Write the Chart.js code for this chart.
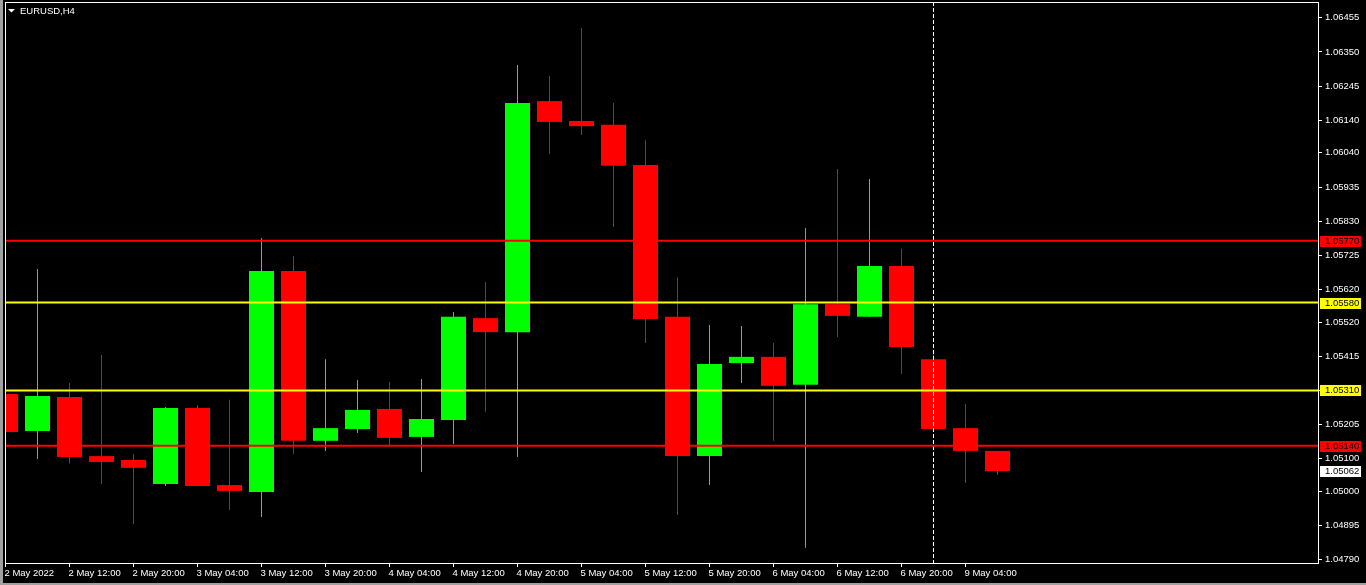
<!DOCTYPE html>
<html>
<head>
<meta charset="utf-8">
<title>EURUSD,H4</title>
<script src="https://cdn.jsdelivr.net/npm/chart.js@4.4.0/dist/chart.umd.min.js"></script>
<style>
  html, body { margin: 0; padding: 0; background: #000; overflow: hidden; }
  canvas { display: block; }
</style>
</head>
<body>
<canvas id="graficoEurusd" width="1366" height="585"></canvas>
<script>
const simbolo = 'EURUSD,H4';

// um candle a cada 4 horas
const horarios = [
  '2 May 04:00', '2 May 08:00', '2 May 12:00', '2 May 16:00', '2 May 20:00',
  '3 May 00:00', '3 May 04:00', '3 May 08:00', '3 May 12:00', '3 May 16:00', '3 May 20:00',
  '4 May 00:00', '4 May 04:00', '4 May 08:00', '4 May 12:00', '4 May 16:00', '4 May 20:00',
  '5 May 00:00', '5 May 04:00', '5 May 08:00', '5 May 12:00', '5 May 16:00', '5 May 20:00',
  '6 May 00:00', '6 May 04:00', '6 May 08:00', '6 May 12:00', '6 May 16:00', '6 May 20:00',
  '9 May 00:00', '9 May 04:00', '9 May 08:00'
];

const aberturas = [
  1.05299, 1.05185, 1.05290, 1.05108, 1.05096, 1.05022, 1.05256, 1.05019, 1.04998, 1.05677,
  1.05155, 1.05191, 1.05253, 1.05167, 1.05219, 1.05532, 1.05489, 1.06199, 1.06138, 1.06126,
  1.06003, 1.05536, 1.05108, 1.05394, 1.05413, 1.05327, 1.05575, 1.05536, 1.05692, 1.05406,
  1.05194, 1.05124
];
const maximas = [
  1.05333, 1.05683, 1.05333, 1.05419, 1.05115, 1.05259, 1.05265, 1.05281, 1.05778, 1.05723,
  1.05406, 1.05342, 1.05336, 1.05345, 1.05551, 1.05643, 1.06310, 1.06276, 1.06424, 1.06193,
  1.06079, 1.05658, 1.05511, 1.05508, 1.05456, 1.05809, 1.05990, 1.05960, 1.05745, 1.05434,
  1.05268, 1.05124
];
const minimas = [
  1.05168, 1.05099, 1.05085, 1.05022, 1.04899, 1.05016, 1.05016, 1.04942, 1.04921, 1.05115,
  1.05124, 1.05179, 1.05142, 1.05059, 1.05145, 1.05244, 1.05105, 1.06036, 1.06095, 1.05812,
  1.05456, 1.04927, 1.05019, 1.05333, 1.05155, 1.04826, 1.05474, 1.05536, 1.05360, 1.05182,
  1.05025, 1.05050
];
const fechamentos = [
  1.05182, 1.05293, 1.05105, 1.05090, 1.05072, 1.05256, 1.05016, 1.05001, 1.05677, 1.05155,
  1.05194, 1.05250, 1.05164, 1.05222, 1.05536, 1.05489, 1.06193, 1.06135, 1.06122, 1.06000,
  1.05529, 1.05108, 1.05391, 1.05413, 1.05324, 1.05575, 1.05539, 1.05692, 1.05443, 1.05191,
  1.05124, 1.05062
];

// linhas horizontais (suporte / resistencia)
const niveisPreco = [1.05770, 1.05580, 1.05310, 1.05140];
const coresNiveis = ['#ff0000', '#ffff00', '#ffff00', '#ff0000'];

// separador vertical no candle de 9 May 00:00
const indiceSeparador = 29;

// rotulos dos eixos
const posicoesEixoX = [0, 2, 4, 6, 8, 10, 12, 14, 16, 18, 20, 22, 24, 26, 28, 30];
const rotulosEixoX = [
  '2 May 2022', '2 May 12:00', '2 May 20:00', '3 May 04:00', '3 May 12:00', '3 May 20:00',
  '4 May 04:00', '4 May 12:00', '4 May 20:00', '5 May 04:00', '5 May 12:00', '5 May 20:00',
  '6 May 04:00', '6 May 12:00', '6 May 20:00', '9 May 04:00'
];
const ticksEixoY = [
  1.06455, 1.06350, 1.06245, 1.06140, 1.06040, 1.05935, 1.05830, 1.05725, 1.05620,
  1.05520, 1.05415, 1.05310, 1.05205, 1.05100, 1.05000, 1.04895, 1.04790
];

const Y_MIN = 1.047795;
const Y_MAX = 1.065036;
const X_MIN = -0.015625;
const X_MAX = 41.015625;

const VERDE = '#00ff00';
const VERMELHO = '#ff0000';
const fonte = { family: '"Liberation Sans", Arial, sans-serif', size: 9.5 };

const corCandle = aberturas.map((a, i) => fechamentos[i] >= a ? VERDE : VERMELHO);
const corpos = horarios.map((h, i) => ({ x: i, y: [aberturas[i], fechamentos[i]] }));
const pavios = horarios.map((h, i) => ({ x: i, y: [minimas[i], maximas[i]] }));

const linhasNiveis = niveisPreco.map((nivel, i) => ({
  type: 'line',
  label: 'nivel ' + nivel,
  data: [{ x: X_MIN, y: nivel }, { x: X_MAX, y: nivel }],
  borderColor: coresNiveis[i],
  borderWidth: 2,
  pointRadius: 0,
  fill: false,
  order: 0
}));

const linhaSeparador = {
  type: 'line',
  label: 'separador',
  data: [{ x: indiceSeparador, y: Y_MAX }, { x: indiceSeparador, y: Y_MIN }],
  borderColor: '#ffffff',
  borderWidth: 1,
  borderDash: [4, 2],
  pointRadius: 0,
  fill: false,
  order: 0
};

// tira o espaco extra que o chart.js reserva para os rotulos das pontas
function semPadding(s) {
  s.paddingLeft = 0;
  s.paddingRight = 0;
  s.paddingTop = 0;
  s.paddingBottom = 0;
}

// moldura, titulo e etiquetas de preco no eixo, estilo MT4
const molduraMT4 = {
  id: 'molduraMT4',
  beforeDraw(chart) {
    const ctx = chart.ctx;
    ctx.save();
    ctx.fillStyle = '#000';
    ctx.fillRect(0, 0, chart.width, chart.height);
    ctx.fillStyle = '#a0a0a0';
    ctx.fillRect(0, 0, 3, chart.height);
    ctx.fillRect(0, chart.height - 2, chart.width, 2);
    ctx.restore();
  },
  afterDraw(chart) {
    const { ctx, chartArea: a, scales } = chart;
    ctx.save();
    ctx.strokeStyle = '#ffffff';
    ctx.lineWidth = 1;
    ctx.strokeRect(a.left + 0.5, a.top + 0.5, a.right - a.left, a.bottom - a.top);

    ctx.fillStyle = '#ffffff';
    ctx.beginPath();
    ctx.moveTo(8, 9);
    ctx.lineTo(15, 9);
    ctx.lineTo(11.5, 12.5);
    ctx.closePath();
    ctx.fill();
    ctx.font = '9.5px "Liberation Sans", Arial, sans-serif';
    ctx.textBaseline = 'alphabetic';
    ctx.textAlign = 'left';
    ctx.fillText(simbolo, 20, 14);

    const etiquetas = niveisPreco.map((v, i) => ({ v, fundo: coresNiveis[i] }));
    etiquetas.push({ v: fechamentos[fechamentos.length - 1], fundo: '#ffffff' });
    ctx.textBaseline = 'middle';
    etiquetas.forEach(e => {
      const py = Math.round(scales.y.getPixelForValue(e.v));
      ctx.fillStyle = e.fundo;
      ctx.fillRect(a.right + 2, py - 5, 41, 11);
      ctx.fillStyle = '#000000';
      ctx.fillText(e.v.toFixed(5), a.right + 7, py + 0.5);
    });
    ctx.restore();
  }
};

const graficoEurusd = new Chart(document.getElementById('graficoEurusd'), {
  type: 'bar',
  data: {
    datasets: [
      ...linhasNiveis,
      linhaSeparador,
      {
        label: 'corpo',
        data: corpos,
        backgroundColor: corCandle,
        barThickness: 25,
        grouped: false,
        inflateAmount: 0,
        order: 1
      },
      {
        label: 'pavio',
        data: pavios,
        backgroundColor: corCandle,
        barThickness: 1,
        grouped: false,
        inflateAmount: 0,
        order: 2
      }
    ]
  },
  options: {
    responsive: false,
    animation: false,
    events: [],
    layout: { padding: { left: 5, top: 2, right: 0, bottom: 0 } },
    plugins: {
      legend: { display: false },
      tooltip: { enabled: false }
    },
    scales: {
      x: {
        type: 'linear',
        offset: false,
        min: X_MIN,
        max: X_MAX,
        afterBuildTicks: s => { s.ticks = posicoesEixoX.map(v => ({ value: v })); },
        afterFit: s => { s.height = 22; semPadding(s); },
        grid: { offset: false, drawOnChartArea: false, drawTicks: true, tickLength: 4, color: '#ffffff' },
        border: { display: true, color: '#ffffff' },
        ticks: {
          color: '#ffffff',
          font: fonte,
          padding: 1,
          align: 'start',
          labelOffset: -1,
          maxRotation: 0,
          autoSkip: false,
          callback: (v, i) => rotulosEixoX[i]
        }
      },
      y: {
        position: 'right',
        min: Y_MIN,
        max: Y_MAX,
        afterBuildTicks: s => { s.ticks = ticksEixoY.map(v => ({ value: v })); },
        afterFit: s => { s.width = 48; semPadding(s); },
        grid: { drawOnChartArea: false, drawTicks: true, tickLength: 4, color: '#ffffff' },
        border: { display: true, color: '#ffffff' },
        ticks: {
          color: '#ffffff',
          font: fonte,
          padding: 3,
          autoSkip: false,
          callback: v => v.toFixed(5)
        }
      }
    }
  },
  plugins: [molduraMT4]
});
</script>
</body>
</html>
